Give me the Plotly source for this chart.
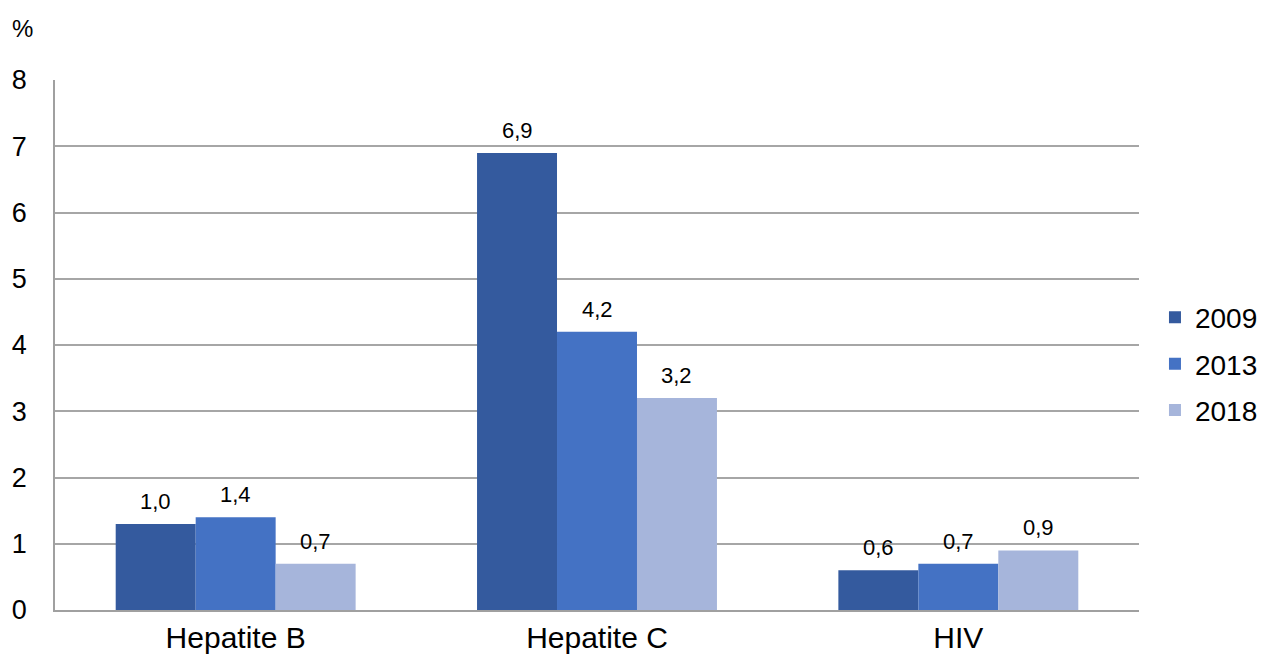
import plotly.graph_objects as go

categories = ["Hepatite B", "Hepatite C", "HIV"]
years = ["2009", "2013", "2018"]
values_2009 = [1.3, 6.9, 0.6]
values_2013 = [1.4, 4.2, 0.7]
values_2018 = [0.7, 3.2, 0.9]
labels_2009 = ["1,0", "6,9", "0,6"]
labels_2013 = ["1,4", "4,2", "0,7"]
labels_2018 = ["0,7", "3,2", "0,9"]
y_ticks = [0, 1, 2, 3, 4, 5, 6, 7, 8]

colors = ["#345A9E", "#4472C4", "#A6B5DB"]
series = [values_2009, values_2013, values_2018]
labels = [labels_2009, labels_2013, labels_2018]

FONT = "Liberation Sans, Arial, sans-serif"
bargap = 0.336

fig = go.Figure()
for yr, vals, col in zip(years, series, colors):
    fig.add_trace(go.Bar(x=categories, y=vals, name=yr, legendgroup=yr,
                         marker=dict(color=col, line=dict(width=0))))

# data labels above bars
n = len(years)
bw = (1 - bargap) / n
annotations = []
for j, (vals, labs) in enumerate(zip(series, labels)):
    for i, (v, lab) in enumerate(zip(vals, labs)):
        annotations.append(dict(
            x=i + (j - (n - 1) / 2) * bw, y=v, xref="x", yref="y",
            text=lab, showarrow=False, yanchor="bottom", yshift=8,
            font=dict(family=FONT, size=22, color="#000000")))
annotations.append(dict(x=-0.0304, y=1.098, xref="paper", yref="paper", text="%",
                        showarrow=False, xanchor="center", yanchor="middle",
                        font=dict(family=FONT, size=24, color="#000000")))

fig.update_layout(
    width=1266, height=663,
    margin=dict(l=47, r=134, t=72, b=61),
    paper_bgcolor="white", plot_bgcolor="white",
    barmode="group", bargap=bargap, bargroupgap=0,
    font=dict(family=FONT, size=28, color="#000000"),
    legend=dict(x=1.0138, y=0.464, xanchor="left", yanchor="middle",
                font=dict(family=FONT, size=28), itemwidth=30, tracegroupgap=7),
    annotations=annotations,
    showlegend=True,
)
fig.update_xaxes(type="category", showline=True, linecolor="#A0A0A0", linewidth=1.5,
                 showgrid=False, ticks="", tickfont=dict(size=30), automargin=False)
fig.update_yaxes(range=[0, 8], tickvals=y_ticks, showgrid=True, gridcolor="#A6A6A6", gridwidth=1.5,
                 showline=True, linecolor="#A0A0A0", linewidth=1.5, zeroline=False,
                 ticks="", tickfont=dict(size=27), ticklabelstandoff=21, automargin=False)

fig.write_html("out.html")
